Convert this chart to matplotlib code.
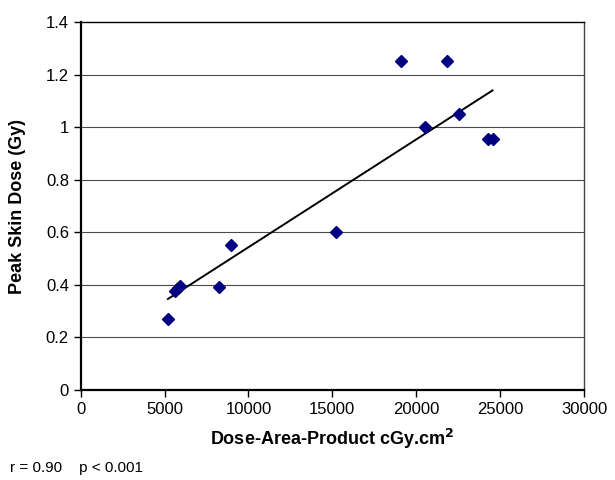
import matplotlib
matplotlib.use("Agg")
import matplotlib.pyplot as plt
import numpy as np

plt.rcParams["font.family"] = ["Liberation Sans", "DejaVu Sans"]

# Dose-area product (cGy.cm2) and peak skin dose (Gy)
dap = [5200, 5620, 5780, 5920, 8260, 8960, 15210,
       19090, 20520, 21850, 22560, 24290, 24550]
psd = [0.27, 0.375, 0.388, 0.397, 0.393, 0.553, 0.60,
       1.25, 1.0, 1.25, 1.05, 0.953, 0.953]

x_ticks = [0, 5000, 10000, 15000, 20000, 25000, 30000]
y_ticks = [0, 0.2, 0.4, 0.6, 0.8, 1.0, 1.2, 1.4]
y_tick_labels = ["0", "0.2", "0.4", "0.6", "0.8", "1", "1.2", "1.4"]

x = np.array(dap)
y = np.array(psd)
slope, intercept = np.polyfit(x, y, 1)
xfit = np.array([x.min(), x.max()])

fig = plt.figure(figsize=(6.15, 4.8), dpi=100)
ax = fig.add_axes([80.7 / 615, 90 / 480, (584 - 80.7) / 615, (390 - 22) / 480])

for yt in y_ticks[1:-1]:
    ax.axhline(yt, color="#4a4a4a", linewidth=0.8, zorder=0)

ax.plot(xfit, slope * xfit + intercept, color="black", linewidth=1.4, zorder=2)
ax.plot(x, y, linestyle="none", marker="D", markersize=6,
        color="#000080", zorder=3)

ax.set_xlim(0, 30000)
ax.set_ylim(0, 1.4)
ax.set_xticks(x_ticks)
ax.set_yticks(y_ticks)
ax.set_yticklabels(y_tick_labels)
ax.tick_params(direction="out", length=5, width=1, labelsize=12, colors="black")

for side in ["left", "bottom"]:
    ax.spines[side].set_linewidth(1.6)
ax.spines["top"].set_linewidth(1.0)
ax.spines["right"].set_linewidth(1.0)
ax.spines["right"].set_color("#444444")

ax.set_xlabel(r"Dose-Area-Product cGy.cm$^\mathbf{2}$", fontsize=13,
              fontweight="bold", labelpad=7)
ax.set_ylabel("Peak Skin Dose (Gy)", fontsize=13, fontweight="bold", labelpad=14)

fig.text(10 / 615, 1 - 468 / 480, "r = 0.90    p < 0.001", fontsize=11,
         va="center", ha="left")

fig.savefig("out.png", dpi=100)
